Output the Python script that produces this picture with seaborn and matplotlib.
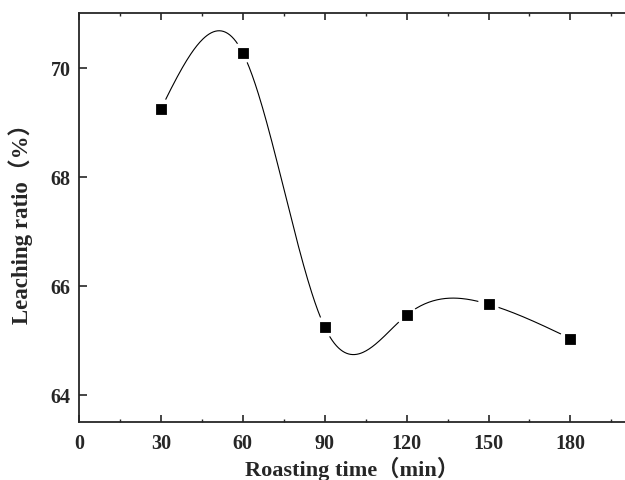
import numpy as np
import pandas as pd
import seaborn as sns
import matplotlib
matplotlib.use('Agg')
import matplotlib.pyplot as plt
from matplotlib.ticker import MultipleLocator

# 数据
roast_time = [30, 60, 90, 120, 150, 180]
leach_ratio = [69.24, 70.27, 65.24, 65.46, 65.66, 65.03]
x_ticks = [0, 30, 60, 90, 120, 150, 180]
y_ticks = [64, 66, 68, 70]

sns.set_style('ticks')
plt.rcParams['font.family'] = ['Liberation Serif', 'Noto Sans CJK SC']
plt.rcParams['font.weight'] = 'bold'


# 自然三次样条（平滑连线用）
def natural_spline(x, y, n=400):
    x = np.asarray(x, float)
    y = np.asarray(y, float)
    h = np.diff(x)
    m = len(x)
    A = np.zeros((m, m))
    b = np.zeros(m)
    A[0, 0] = A[-1, -1] = 1
    for i in range(1, m - 1):
        A[i, i - 1] = h[i - 1]
        A[i, i] = 2 * (h[i - 1] + h[i])
        A[i, i + 1] = h[i]
        b[i] = 6 * ((y[i + 1] - y[i]) / h[i] - (y[i] - y[i - 1]) / h[i - 1])
    M = np.linalg.solve(A, b)
    xs = np.linspace(x[0], x[-1], n)
    k = np.clip(np.searchsorted(x, xs) - 1, 0, m - 2)
    t1 = x[k + 1] - xs
    t2 = xs - x[k]
    hk = h[k]
    ys = (M[k] * t1 ** 3 + M[k + 1] * t2 ** 3) / (6 * hk) \
        + (y[k] / hk - M[k] * hk / 6) * t1 + (y[k + 1] / hk - M[k + 1] * hk / 6) * t2
    return xs, ys


xs, ys = natural_spline(roast_time, leach_ratio)
df_curve = pd.DataFrame({'t': xs, 'r': ys})
df_pts = pd.DataFrame({'t': roast_time, 'r': leach_ratio})

fig = plt.figure(figsize=(6.25, 4.81), dpi=100)
ax = fig.add_axes([0.1264, 0.1206, 0.8736, 0.8503])

sns.lineplot(data=df_curve, x='t', y='r', color='black', linewidth=0.8, ax=ax)
# 白色底圈，模拟线在点附近断开
sns.scatterplot(data=df_pts, x='t', y='r', marker='o', s=230, color='white',
                edgecolor='none', zorder=3, ax=ax)
sns.scatterplot(data=df_pts, x='t', y='r', marker='s', s=55, color='black',
                edgecolor='black', zorder=4, ax=ax)

ax.set_xlim(0, 200)
ax.set_ylim(63.5, 71)
ax.set_xticks(x_ticks)
ax.set_yticks(y_ticks)
ax.xaxis.set_minor_locator(MultipleLocator(15))

ax.tick_params(axis='x', which='major', direction='in', length=5, width=1.2,
               top=True, labelsize=14.5, pad=8)
ax.tick_params(axis='x', which='minor', direction='in', length=2.5, width=1,
               top=True)
ax.tick_params(axis='y', which='major', direction='in', length=5.5, width=1.2,
               labelsize=14.5, pad=6)

for sp in ['left', 'bottom', 'top']:
    ax.spines[sp].set_linewidth(1.3)
ax.spines['right'].set_visible(False)

ax.set_xlabel('Roasting time（min）', fontsize=16, fontweight='bold')
ax.set_ylabel('Leaching ratio（%）', fontsize=16.5, fontweight='bold')
ax.xaxis.set_label_coords(0.5, -0.082)
ax.yaxis.set_label_coords(-0.084, 0.5)

fig.savefig('out.png', dpi=100)
